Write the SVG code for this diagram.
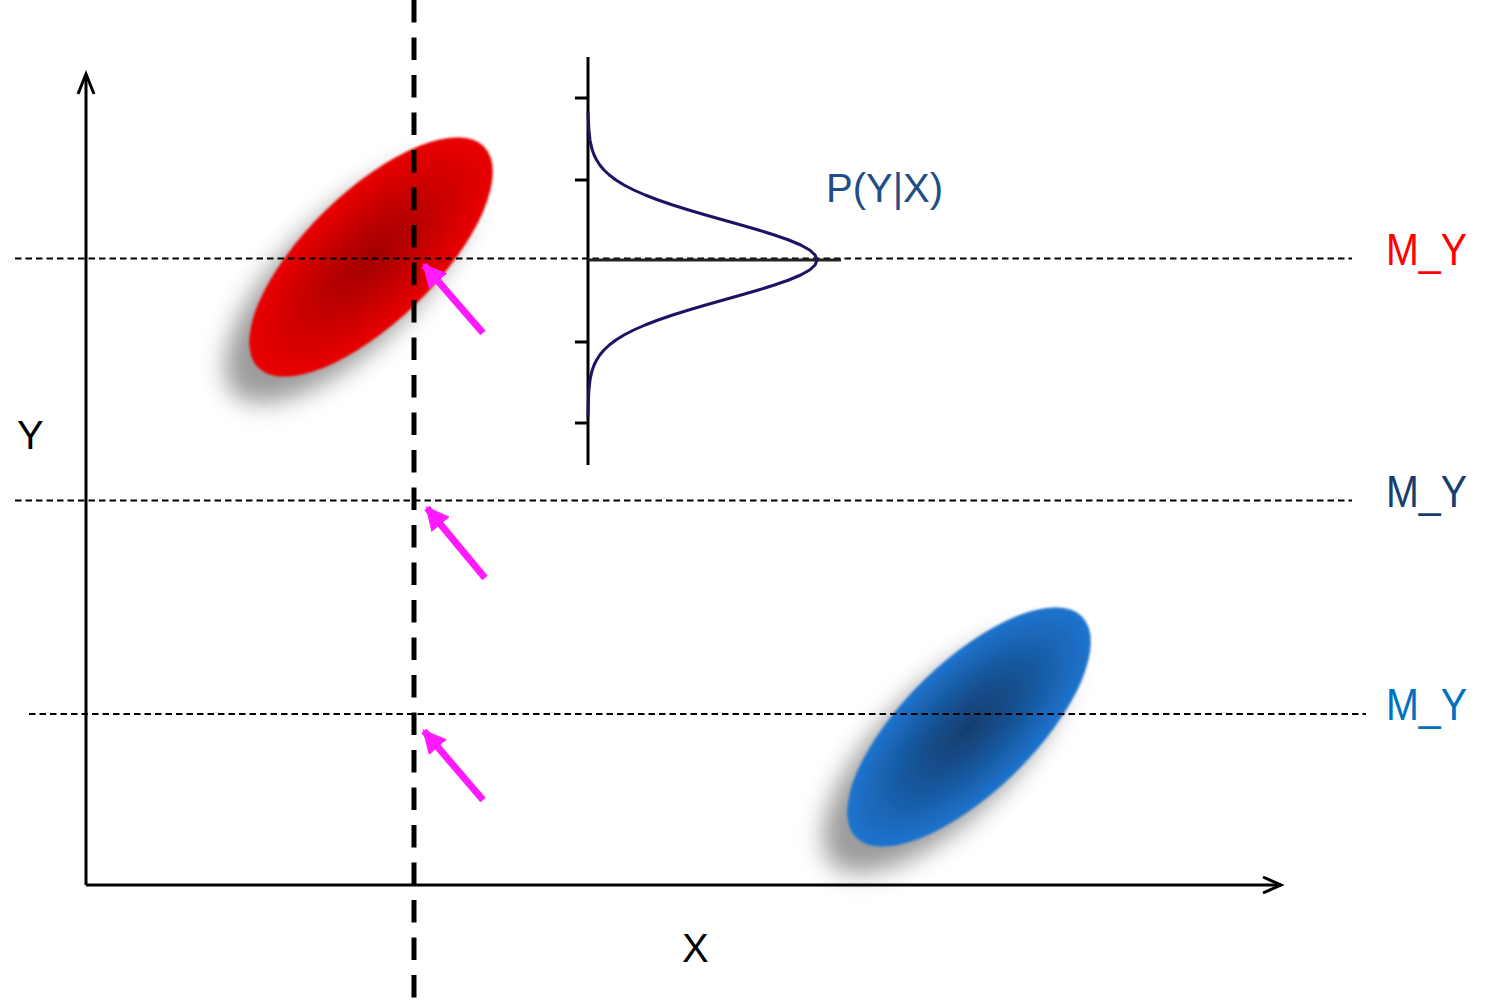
<svg xmlns="http://www.w3.org/2000/svg" width="1497" height="1004" viewBox="0 0 1497 1004">
  <style>
    .lbl { font-family: "Liberation Sans", Arial, sans-serif; }
    .axis { stroke: #000; stroke-width: 3; fill: none; }
    .guide { stroke: #000; stroke-width: 2; stroke-dasharray: 6.5 4; fill: none; }
    .vdash { stroke: #000; stroke-width: 5; stroke-dasharray: 22.5 15; fill: none; }
    .pink { stroke: #FF1AFF; stroke-width: 7; fill: none; }
    .tick { stroke: #000; stroke-width: 3; }
  </style>
  <defs>
    <radialGradient id="gRed" cx="0.5" cy="0.5" r="0.5">
      <stop offset="0" stop-color="#A20000"/>
      <stop offset="0.4" stop-color="#BC0000"/>
      <stop offset="0.8" stop-color="#DC0000"/>
      <stop offset="1" stop-color="#E90000"/>
    </radialGradient>
    <radialGradient id="gBlue" cx="0.5" cy="0.5" r="0.5">
      <stop offset="0" stop-color="#113E6E"/>
      <stop offset="0.4" stop-color="#165090"/>
      <stop offset="0.8" stop-color="#1B68BA"/>
      <stop offset="1" stop-color="#1F74CF"/>
    </radialGradient>
    <filter id="shadow" x="-50%" y="-50%" width="200%" height="200%">
      <feGaussianBlur stdDeviation="12"/>
    </filter>
    <filter id="soft" x="-10%" y="-10%" width="120%" height="120%">
      <feGaussianBlur stdDeviation="1.2"/>
    </filter>
    <marker id="pinkHead" viewBox="0 0 10 10" refX="9" refY="5" markerWidth="3.4" markerHeight="3.4" orient="auto" markerUnits="strokeWidth">
      <path d="M0,0 L10,5 L0,10 Z" fill="#FF1AFF"/>
    </marker>
  </defs>

  <rect width="1497" height="1004" fill="#fff"/>

  <g id="cluster-red">
    <ellipse cx="347" cy="283" rx="158" ry="66" transform="rotate(-44.3 347 283)" fill="#7a7a7a" opacity="0.75" filter="url(#shadow)"/>
    <ellipse cx="371" cy="257" rx="158" ry="65" transform="rotate(-44.3 371 257)" fill="url(#gRed)" filter="url(#soft)"/>
  </g>

  <g id="cluster-blue">
    <ellipse cx="945" cy="753" rx="158" ry="66" transform="rotate(-44.3 945 753)" fill="#7a7a7a" opacity="0.75" filter="url(#shadow)"/>
    <ellipse cx="969" cy="727" rx="158" ry="65" transform="rotate(-44.3 969 727)" fill="url(#gBlue)" filter="url(#soft)"/>
  </g>

  <g id="connectors">
    <line class="guide" x1="15" y1="258.5" x2="1352" y2="258.5"/>
    <line class="guide" x1="15" y1="500.5" x2="1352" y2="500.5"/>
    <line class="guide" x1="29" y1="714" x2="1366" y2="714"/>
    <line class="vdash" x1="414" y1="0" x2="414" y2="1000"/>
    <polyline class="axis" points="86,885 86,74"/>
    <polyline class="axis" points="78,94 86,74 94,94"/>
    <polyline class="axis" points="86,885 1281,885"/>
    <polyline class="axis" points="1263,877 1281,885 1263,893"/>
    <line class="pink" x1="483" y1="333" x2="424" y2="265" marker-end="url(#pinkHead)"/>
    <line class="pink" x1="485" y1="578" x2="427" y2="508" marker-end="url(#pinkHead)"/>
    <line class="pink" x1="483" y1="800" x2="424" y2="731" marker-end="url(#pinkHead)"/>
  </g>

  <g id="gaussian-plot">
    <line class="tick" x1="588" y1="57" x2="588" y2="465"/>
    <line class="tick" x1="575" y1="98" x2="588" y2="98"/>
    <line class="tick" x1="575" y1="180" x2="588" y2="180"/>
    <line class="tick" x1="575" y1="342" x2="588" y2="342"/>
    <line class="tick" x1="575" y1="423" x2="588" y2="423"/>
    <line x1="588" y1="260" x2="841" y2="260" stroke="#222" stroke-width="3"/>
    <polyline fill="none" stroke="#1C1462" stroke-width="3" stroke-linejoin="round" points="588,112 588.4,120 588.9,130 590,140 591,145 592.3,150 594.1,155 596.6,160 599.8,165 604,170 609.3,175 615.9,180 624,185 633.7,190 645.1,195 658.1,200 672.7,205 688.7,210 705.7,215 723.3,220 741.1,225 758.4,230 774.4,235 788.8,240 800.7,245 809.6,250 815.1,255 817,260 815.1,265 809.6,270 800.7,275 788.8,280 774.4,285 758.4,290 741.1,295 723.3,300 705.7,305 688.7,310 672.7,315 658.1,320 645.1,325 633.7,330 624,335 615.9,340 609.3,345 604,350 599.8,355 596.6,360 594.1,365 592.3,370 591,375 590,380 588.9,390 588.4,400 588,417"/>
    <text class="lbl" x="826" y="202" font-size="40" fill="#1F4E86">P(Y|X)</text>
  </g>

  <g id="labels">
    <text class="lbl" x="1386" y="265" font-size="44" fill="#FF0000" textLength="81" lengthAdjust="spacingAndGlyphs">M_Y</text>
    <text class="lbl" x="1386" y="507" font-size="44" fill="#173F6E" textLength="81" lengthAdjust="spacingAndGlyphs">M_Y</text>
    <text class="lbl" x="1386" y="720" font-size="44" fill="#0070C0" textLength="81" lengthAdjust="spacingAndGlyphs">M_Y</text>
    <text class="lbl" x="17" y="449" font-size="40" fill="#000">Y</text>
    <text class="lbl" x="682" y="962" font-size="40" fill="#000">X</text>
  </g>
</svg>
